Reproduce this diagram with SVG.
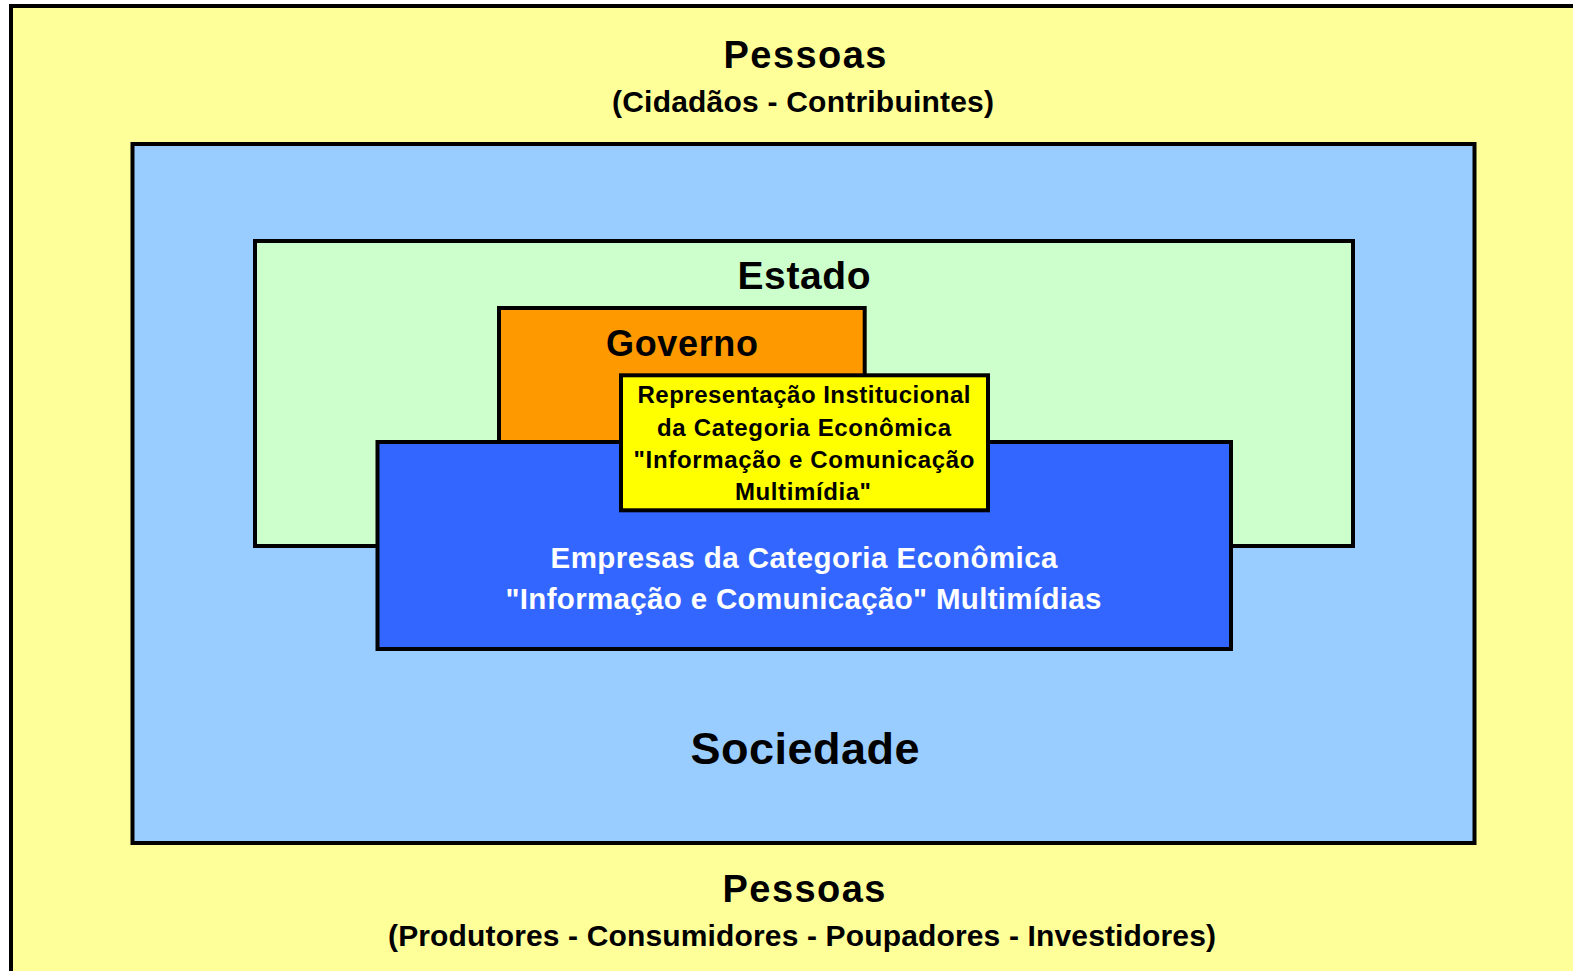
<svg xmlns="http://www.w3.org/2000/svg" width="1573" height="971" viewBox="0 0 1573 971">
<style>
.box{stroke:#000;stroke-width:4}
text{font-family:"Liberation Sans",Arial,sans-serif;font-weight:bold;text-anchor:middle;fill:#000}
.w{fill:#fff}
</style>
<rect x="0" y="0" width="1573" height="971" fill="#fff"/>
<g id="pessoas">
<rect class="box" x="11" y="6" width="1600" height="1000" fill="#FFFF99"/>
<text x="805" y="68" font-size="38" textLength="163" lengthAdjust="spacing">Pessoas</text>
<text x="803" y="112" font-size="30" textLength="382" lengthAdjust="spacing">(Cidadãos - Contribuintes)</text>
<text x="804" y="902" font-size="38" textLength="163" lengthAdjust="spacing">Pessoas</text>
<text x="802" y="946" font-size="30" textLength="828" lengthAdjust="spacing">(Produtores - Consumidores - Poupadores - Investidores)</text>
</g>
<g id="sociedade">
<rect class="box" x="132.5" y="144" width="1342" height="699" fill="#99CCFF"/>
<text x="805" y="764" font-size="45" textLength="229" lengthAdjust="spacing">Sociedade</text>
</g>
<g id="estado">
<rect class="box" x="255" y="241" width="1098" height="305" fill="#CCFFCC"/>
<text x="804" y="289" font-size="39" textLength="133" lengthAdjust="spacing">Estado</text>
</g>
<g id="governo">
<rect class="box" x="499" y="308" width="365.7" height="160" fill="#FF9900"/>
<text x="682" y="356" font-size="36" textLength="152" lengthAdjust="spacing">Governo</text>
</g>
<g id="empresas">
<rect class="box" x="377.5" y="442" width="853.5" height="207" fill="#3366FF"/>
<text class="w" x="804" y="568" font-size="29.5" textLength="507" lengthAdjust="spacing">Empresas da Categoria Econômica</text>
<text class="w" x="803.5" y="609" font-size="29.5" textLength="596" lengthAdjust="spacing">"Informação e Comunicação" Multimídias</text>
</g>
<g id="representacao">
<rect class="box" x="621" y="375.3" width="367" height="135" fill="#FFFF00"/>
<text x="804" y="403" font-size="24" textLength="333" lengthAdjust="spacing">Representação Institucional</text>
<text x="804" y="436" font-size="24" textLength="294" lengthAdjust="spacing">da Categoria Econômica</text>
<text x="804" y="468" font-size="24" textLength="341" lengthAdjust="spacing">"Informação e Comunicação</text>
<text x="803" y="500" font-size="24" textLength="136" lengthAdjust="spacing">Multimídia"</text>
</g>
<g id="connectors"></g>
</svg>
